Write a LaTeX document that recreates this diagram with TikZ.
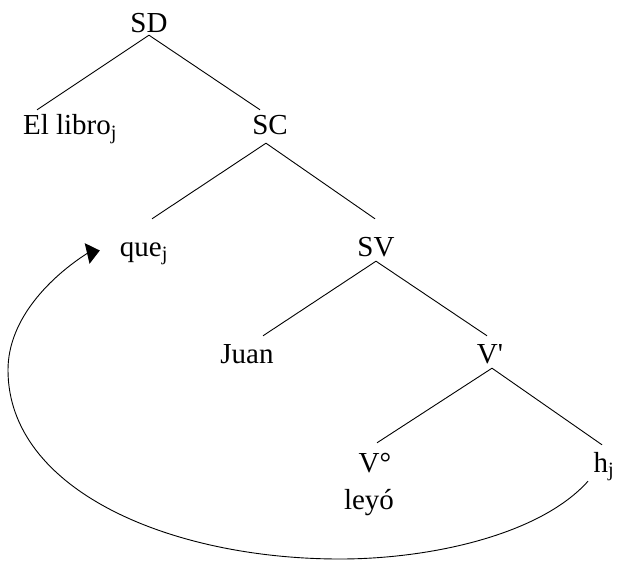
\documentclass[tikz,border=0pt]{standalone}
\usepackage{fontspec}
\setmainfont{Liberation Serif}
\newfontfamily\treefont{Liberation Serif}
\usetikzlibrary{arrows.meta}
\begin{document}
\begin{tikzpicture}[x=1pt,y=-1pt,
  lab/.style={font=\treefont\fontsize{29}{35}\selectfont, inner sep=0pt, text height=22pt, text depth=5pt, anchor=base},
  edge/.style={line width=0.9pt},
  moveline/.style={line width=0.9pt, -{Triangle[length=13pt,width=21pt]}}]
\useasboundingbox (0,0) rectangle (617,561);
\node[lab] (sd)   at (149,33)  {SD};
\node[lab] (el)   at (70,135)  {El libro\textsubscript{j}};
\node[lab] (sc)   at (270,135) {SC};
\node[lab] (que)  at (144,256) {que\textsubscript{j}};
\node[lab] (sv)   at (376,256) {SV};
\node[lab] (juan) at (247,363) {Juan};
\node[lab] (vbar) at (490,363) {V\textquotesingle};
\node[lab] (vo)   at (375,472) {V°};
\node[lab] (hj)   at (604,472) {h\textsubscript{j}};
\node[lab] (leyo) at (369,509) {leyó};
\draw[edge] ([yshift=3pt]sd.south) -- ([xshift=-33pt,yshift=3pt]el.north);
\draw[edge] ([yshift=3pt]sd.south) -- ([xshift=-10pt,yshift=3pt]sc.north);
\draw[edge] ([xshift=-4pt,yshift=-3pt]sc.south) -- ([xshift=8pt,yshift=15pt]que.north);
\draw[edge] ([xshift=-4pt,yshift=-3pt]sc.south) -- ([xshift=-1pt,yshift=15pt]sv.north);
\draw[edge] (sv.south) -- ([xshift=16pt,yshift=5pt]juan.north);
\draw[edge] (sv.south) -- ([xshift=-3pt,yshift=5pt]vbar.north);
\draw[edge] ([xshift=2pt]vbar.south) -- ([xshift=2pt,yshift=7pt]vo.north);
\draw[edge] ([xshift=2pt]vbar.south) -- ([xshift=-2pt,yshift=5pt]hj.north);
\draw[moveline] ([xshift=-16pt,yshift=-4pt]hj.south)
  .. controls (540,535) and (430,559) .. (340,559)
  .. controls (170,559) and (8,490) .. (8,370)
  .. controls (8,318) and (52,276) .. (87,253.5)
  -- ([xshift=-20pt,yshift=-3pt]que.west);
\end{tikzpicture}
\end{document}
